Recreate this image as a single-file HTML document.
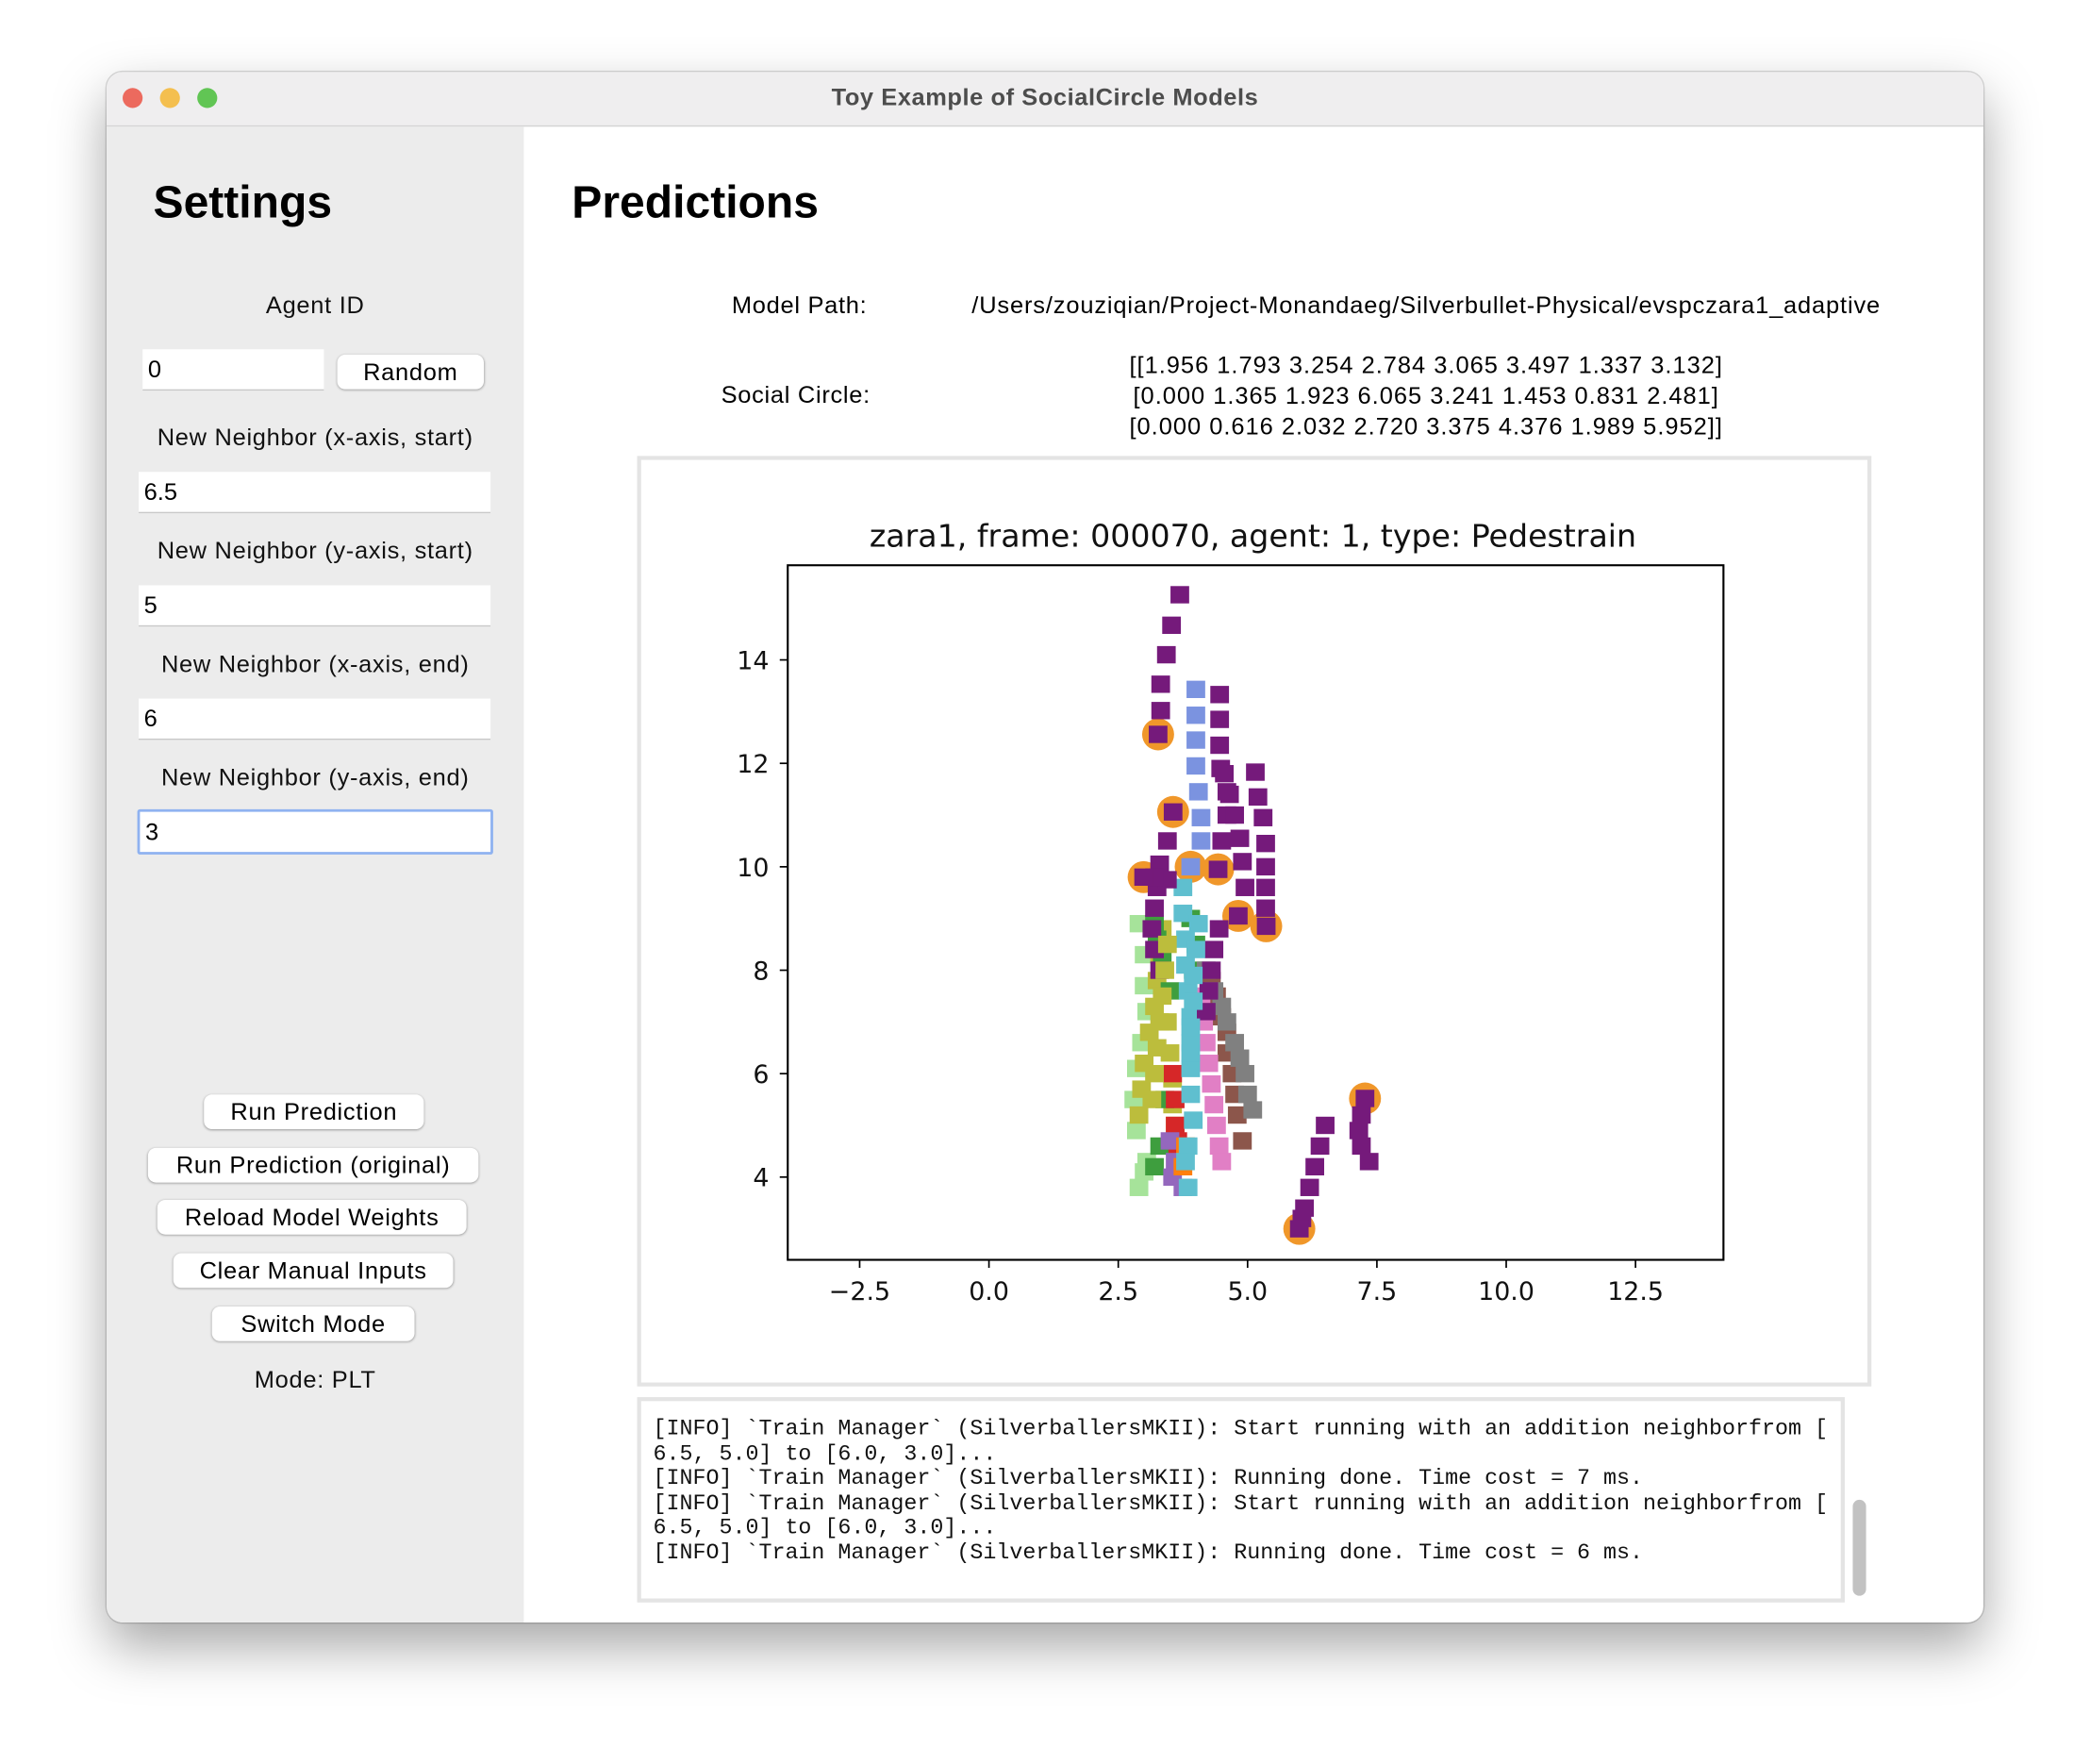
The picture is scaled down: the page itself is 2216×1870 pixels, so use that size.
<!DOCTYPE html>
<html><head><meta charset="utf-8">
<style>
html,body{margin:0;padding:0;background:#fff;width:2216px;height:1870px;overflow:hidden;font-family:"Liberation Sans",sans-serif;}
#wrap{position:absolute;left:0;top:0;width:1568px;height:1323px;transform:scale(1.41327);transform-origin:0 0;}
.abs{position:absolute;}
#win{left:80px;top:54px;width:1408px;height:1163px;border-radius:12px;overflow:hidden;box-shadow:0 18px 40px rgba(0,0,0,0.35),0 0 0 1px rgba(0,0,0,0.15);background:#fff;}
#titlebar{left:0;top:0;width:1408px;height:40px;background:#efeeef;border-bottom:1px solid #d4d4d4;}
.tl{width:15px;height:15px;border-radius:50%;top:12px;}
#side{left:0;top:41px;width:313px;height:1122px;background:#ececec;}
.t18{font-size:18px;letter-spacing:0.5px;}
.lbl{font-size:18px;letter-spacing:0.5px;color:#111;text-align:center;width:313px;left:0;}
.inp{background:#fff;border-bottom:1px solid #c8c8c8;font-size:18px;height:31px;line-height:31px;padding-left:4px;box-sizing:border-box;}
.btn{background:#fff;border-radius:6px;box-shadow:0 0.5px 2px rgba(0,0,0,0.35);font-size:18px;letter-spacing:0.5px;text-align:center;line-height:26px;height:26px;}
.mono{font-family:"Liberation Mono","DejaVu Sans Mono",monospace;font-size:16.5px;line-height:18.5px;white-space:pre;color:#111;}
</style></head><body>
<div id="wrap">
<div id="win" class="abs">
  <div id="titlebar" class="abs">
    <div class="abs tl" style="left:12px;background:#ec6a5e"></div>
    <div class="abs tl" style="left:40px;background:#f4bf4f"></div>
    <div class="abs tl" style="left:68px;background:#61c554"></div>
    <div class="abs" style="left:0;width:1408px;top:9px;text-align:center;font-weight:bold;font-size:18px;letter-spacing:0.4px;color:#4d4d4d">Toy Example of SocialCircle Models</div>
  </div>
  <div id="side" class="abs">
    <div class="abs" style="left:35px;top:38px;font-size:34px;font-weight:bold;color:#000">Settings</div>
    <div class="abs lbl" style="top:124px">Agent ID</div>
    <div class="abs inp" style="left:27px;top:167px;width:136px;">0</div>
    <div class="abs btn" style="left:173px;top:171px;width:110px;">Random</div>
    <div class="abs lbl" style="top:223px">New Neighbor (x-axis, start)</div>
    <div class="abs inp" style="left:24px;top:259px;width:264px;">6.5</div>
    <div class="abs lbl" style="top:308px">New Neighbor (y-axis, start)</div>
    <div class="abs inp" style="left:24px;top:344px;width:264px;">5</div>
    <div class="abs lbl" style="top:393px">New Neighbor (x-axis, end)</div>
    <div class="abs inp" style="left:24px;top:429px;width:264px;">6</div>
    <div class="abs lbl" style="top:478px">New Neighbor (y-axis, end)</div>
    <div class="abs inp" style="left:23px;top:512px;width:267px;height:34px;line-height:30px;border:2px solid #8fb2f0;border-radius:2px">3</div>
    <div class="abs btn" style="left:73px;top:726px;width:165px;">Run Prediction</div>
    <div class="abs btn" style="left:31px;top:766px;width:248px;">Run Prediction (original)</div>
    <div class="abs btn" style="left:38px;top:805px;width:232px;">Reload Model Weights</div>
    <div class="abs btn" style="left:50px;top:845px;width:210px;">Clear Manual Inputs</div>
    <div class="abs btn" style="left:79px;top:885px;width:152px;">Switch Mode</div>
    <div class="abs lbl" style="top:930px">Mode: PLT</div>
  </div>
  <div class="abs" style="left:349px;top:79px;font-size:34px;font-weight:bold;color:#000">Predictions</div>
  <div class="abs t18" style="left:469px;top:165px;">Model Path:</div>
  <div class="abs t18" style="left:649px;top:165px;letter-spacing:0.6px">/Users/zouziqian/Project-Monandaeg/Silverbullet-Physical/evspczara1_adaptive</div>
  <div class="abs t18" style="left:461px;top:232px;">Social Circle:</div>
  <div class="abs t18" style="left:690px;top:209px;width:600px;text-align:center;line-height:23px;letter-spacing:0.7px">[[1.956 1.793 3.254 2.784 3.065 3.497 1.337 3.132]<br>[0.000 1.365 1.923 6.065 3.241 1.453 0.831 2.481]<br>[0.000 0.616 2.032 2.720 3.375 4.376 1.989 5.952]]</div>
  <div class="abs" style="left:398px;top:288px;width:920px;height:692px;border:3px solid #e4e4e4"></div>
  <div class="abs" style="left:398px;top:994px;width:900px;height:148px;border:3px solid #e4e4e4;background:#fff">
    <div class="abs mono" style="left:9px;top:12px">[INFO] `Train Manager` (SilverballersMKII): Start running with an addition neighborfrom [
6.5, 5.0] to [6.0, 3.0]...
[INFO] `Train Manager` (SilverballersMKII): Running done. Time cost = 7 ms.
[INFO] `Train Manager` (SilverballersMKII): Start running with an addition neighborfrom [
6.5, 5.0] to [6.0, 3.0]...
[INFO] `Train Manager` (SilverballersMKII): Running done. Time cost = 6 ms.</div>
  </div>
  <div class="abs" style="left:1310px;top:1071px;width:10px;height:72px;border-radius:5px;background:#c2c2c2"></div>
</div>
<svg id="chart" class="abs" style="left:0;top:0" width="1568" height="1323"></svg>
</div>
<script>
const NS='http://www.w3.org/2000/svg';
const xTicks=[-2.5,0.0,2.5,5.0,7.5,10.0,12.5];
const yTicks=[4,6,8,10,12,14];
const trackColors=['#a6e39a','#bcbd3c','#3e9e3e','#8c564b','#808080','#e17fc5','#d62728','#9467bd','#ff7f0e','#5fbfcf','#7b93e0','#751a7b','#751a7b','#751a7b','#751a7b','#751a7b','#751a7b','#751a7b','#751a7b','#751a7b','#bcbd3c','#5fbfcf'];
const trackX=[
 [2.9,3.0,3.0,3.05,2.95,2.85,2.8,2.85,3.05,3.0,2.9],
 [3.35,3.3,3.25,3.2,3.1,3.0,2.95,2.9,3.6,3.6,3.55,3.55,3.5,3.45],
 [3.2,3.25,3.35,3.5,3.9,4.0,3.95,3.3,3.2,3.4],
 [4.3,4.4,4.5,4.6,4.6,4.7,4.75,4.8,4.9],
 [4.2,4.35,4.5,4.6,4.75,4.85,4.95,5.0,5.1],
 [4.1,4.15,4.2,4.25,4.3,4.35,4.4,4.45,4.5],
 [3.55,3.6,3.6,3.65,3.65],
 [3.5,3.6,3.55,3.75],
 [3.75,3.8],
 [3.75,3.75,3.8,3.8,3.85,3.9,3.9,3.9,3.9,3.95,3.85,3.8,3.85],
 [4.0,4.0,4.0,4.0,4.05,4.1,4.1,3.9],
 [3.69,3.53,3.43,3.32,3.32,3.27],
 [4.46,4.46,4.46,4.48,4.6,4.6,4.5,4.43],
 [4.55,4.65,4.75,4.85,4.9,4.95,4.82],
 [5.15,5.2,5.3,5.35,5.35,5.35,5.35,5.36],
 [3.45,3.3,3.25,3.2,3.15,3.2,3.3,3.56],
 [3.45,3.2,2.99],
 [4.45,4.35,4.3,4.25,4.2],
 [6.5,6.4,6.3,6.2,6.1,6.05,6.0],
 [7.35,7.2,7.15,7.2,7.27],
 [3.45,3.4,3.35,3.3,3.25,3.2,3.15],
 [4.05,4.0,3.95,3.95,3.9,3.9]];
const trackY=[
 [8.9,8.3,7.7,7.2,6.6,6.1,5.5,4.9,4.3,4.1,3.8],
 [8.8,8.3,7.8,7.3,6.8,6.2,5.7,5.2,4.6,5.0,5.4,5.9,6.4,7.0],
 [8.9,8.6,8.2,7.6,9.0,8.5,8.0,4.6,4.2,5.5],
 [7.8,7.5,7.1,6.8,6.4,6.0,5.6,5.2,4.7],
 [8.0,7.6,7.3,7.0,6.6,6.3,6.0,5.6,5.3],
 [7.5,7.0,6.6,6.2,5.8,5.4,5.0,4.6,4.3],
 [6.0,5.5,5.0,4.7,4.5],
 [4.7,4.3,4.0,3.8],
 [4.2,4.6],
 [9.6,9.1,8.6,8.1,7.6,7.1,6.6,6.1,5.6,5.1,4.6,4.3,3.8],
 [13.43,12.93,12.45,11.95,11.45,10.95,10.5,10.0],
 [15.26,14.67,14.1,13.53,13.02,12.56],
 [13.33,12.85,12.35,11.9,11.45,11.0,10.5,9.95],
 [11.8,11.4,11.0,10.55,10.1,9.6,9.05],
 [11.83,11.35,10.95,10.45,10.0,9.6,9.2,8.85],
 [10.5,10.05,9.6,9.2,8.8,8.4,8.0,11.06],
 [9.75,9.8,9.8],
 [8.8,8.4,8.0,7.6,7.2],
 [5.0,4.6,4.2,3.8,3.4,3.2,3.0],
 [4.3,4.6,4.9,5.2,5.52],
 [8.5,8.0,7.5,7.0,6.5,6.0,5.5],
 [8.9,8.4,7.9,7.4,6.9,6.4]];
const circled=[0,0,0,0,0,0,0,0,0,0,1,1,1,1,1,1,1,0,1,1,0,0];
const svg=document.getElementById('chart');
const L=591,R=1293,T=424,B=945;
const X0=-3.89,X1=14.2,Y0=2.40,Y1=15.83;
function sx(v){return L+(v-X0)/(X1-X0)*(R-L);}
function sy(v){return B-(v-Y0)/(Y1-Y0)*(B-T);}
function mk(tag,attrs){const e=document.createElementNS(NS,tag);for(const k in attrs)e.setAttribute(k,attrs[k]);return e;}
let t=mk('text',{x:940,y:410,'text-anchor':'middle','font-family':'DejaVu Sans, sans-serif','font-size':23.5,fill:'#111'});
t.textContent='zara1, frame: 000070, agent: 1, type: Pedestrain';


svg.appendChild(t);
const clip=mk('clipPath',{id:'pc'});clip.appendChild(mk('rect',{x:L,y:T,width:R-L,height:B-T}));svg.appendChild(clip);
const g=mk('g',{'clip-path':'url(#pc)'});svg.appendChild(g);
for(let i=0;i<trackX.length;i++){
  const n=trackX[i].length-1;
  if(circled[i]){
    const c=mk('circle',{cx:sx(trackX[i][n]),cy:sy(trackY[i][n]),r:12,fill:'#f0972a'});
    
    
    g.appendChild(c);
  }
}
for(let i=0;i<trackX.length;i++){
  for(let j=0;j<trackX[i].length;j++){
    const r=mk('rect',{x:sx(trackX[i][j])-7,y:sy(trackY[i][j])-6.5,width:14,height:13,fill:trackColors[i]});
    
    
    g.appendChild(r);
  }
}
const ax=mk('rect',{x:L,y:T,width:R-L,height:B-T,fill:'none',stroke:'#000','stroke-width':1.5});


svg.appendChild(ax);
xTicks.forEach(v=>{
  svg.appendChild(mk('line',{x1:sx(v),x2:sx(v),y1:B,y2:B+6,stroke:'#000','stroke-width':1.2}));
  const tt=mk('text',{x:sx(v),y:B+30,'text-anchor':'middle','font-family':'DejaVu Sans, sans-serif','font-size':19,fill:'#111'});
  tt.textContent=(v<0?'\u2212'+Math.abs(v).toFixed(1):v.toFixed(1));
  
  
  svg.appendChild(tt);
});
yTicks.forEach(v=>{
  svg.appendChild(mk('line',{x1:L-6,x2:L,y1:sy(v),y2:sy(v),stroke:'#000','stroke-width':1.2}));
  const tt=mk('text',{x:L-14,y:sy(v)+7,'text-anchor':'end','font-family':'DejaVu Sans, sans-serif','font-size':19,fill:'#111'});
  tt.textContent=String(v);
  
  
  svg.appendChild(tt);
});
</script>
</body></html>
